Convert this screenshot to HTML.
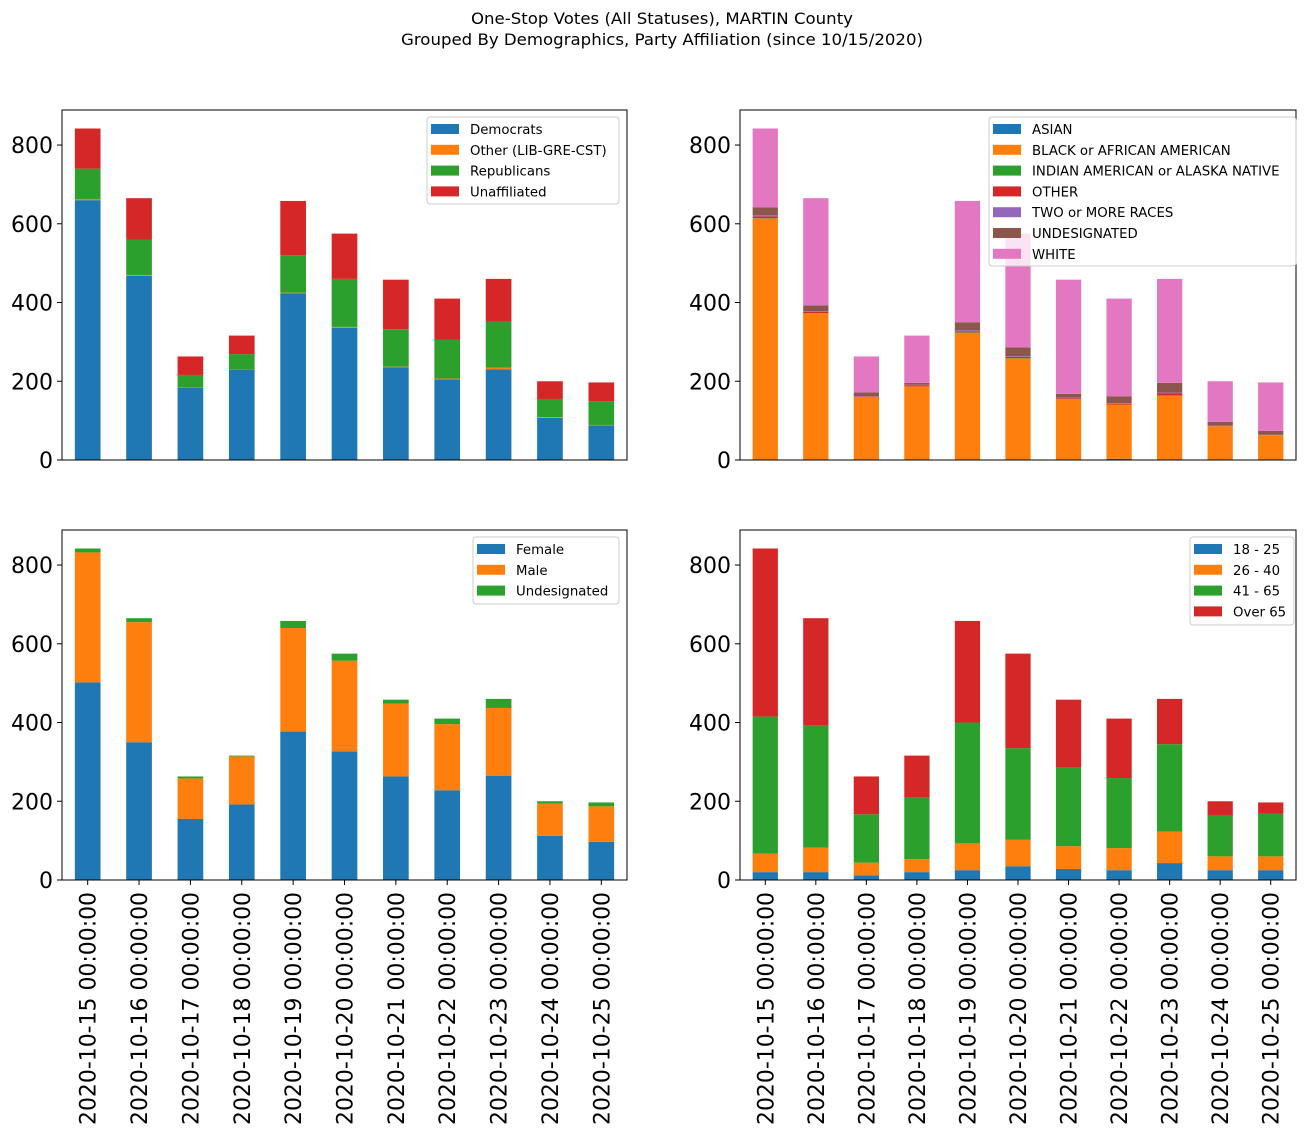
<!DOCTYPE html>
<html><head><meta charset="utf-8"><style>
body{margin:0;background:#fff;}
svg{display:block;font-family:"DejaVu Sans","Liberation Sans",sans-serif;}
</style></head><body>
<svg id="fig" width="1312" height="1137">
<text x="662" y="24" text-anchor="middle" font-size="16" textLength="382" lengthAdjust="spacingAndGlyphs">One-Stop Votes (All Statuses), MARTIN County</text>
<text x="662" y="45" text-anchor="middle" font-size="16" textLength="522" lengthAdjust="spacingAndGlyphs">Grouped By Demographics, Party Affiliation (since 10/15/2020)</text>
</svg>
<script>
const dates=["2020-10-15 00:00:00","2020-10-16 00:00:00","2020-10-17 00:00:00","2020-10-18 00:00:00","2020-10-19 00:00:00","2020-10-20 00:00:00","2020-10-21 00:00:00","2020-10-22 00:00:00","2020-10-23 00:00:00","2020-10-24 00:00:00","2020-10-25 00:00:00"];
const yTicks=[0,200,400,600,800];
const partyNames=["Democrats","Other (LIB-GRE-CST)","Republicans","Unaffiliated"];
const partyDem=[660,468,183,230,423,336,235,205,230,107,88];
const partyOther=[3,2,1,1,2,2,2,2,5,2,1];
const partyRep=[77,90,32,38,95,122,95,98,116,46,60];
const partyUna=[102,105,47,47,138,115,126,105,109,45,48];
const raceNames=["ASIAN","BLACK or AFRICAN AMERICAN","INDIAN AMERICAN or ALASKA NATIVE","OTHER","TWO or MORE RACES","UNDESIGNATED","WHITE"];
const raceAsian=[0,0,0,0,0,0,0,3,0,0,0];
const raceBlack=[613,373,160,187,323,258,155,138,163,86,63];
const raceIndian=[1,0,0,0,1,1,0,0,1,0,0];
const raceOther=[5,3,1,3,3,3,2,2,5,0,0];
const raceTwo=[3,2,1,1,3,2,1,1,2,1,1];
const raceUndes=[20,15,10,5,20,22,10,18,25,10,10];
const raceWhite=[200,272,91,120,308,289,290,248,264,103,123];
const genderNames=["Female","Male","Undesignated"];
const genFemale=[502,350,155,192,377,327,263,228,265,112,97];
const genMale=[330,305,103,122,263,230,185,168,172,82,90];
const genUndes=[10,10,5,2,18,18,10,14,23,6,10];
const ageNames=["18 - 25","26 - 40","41 - 65","Over 65"];
const age1825=[20,20,12,20,25,35,28,25,43,25,25];
const age2640=[47,62,32,33,68,67,58,56,80,35,35];
const age4165=[348,310,123,156,307,233,200,178,222,103,108];
const ageOver65=[427,273,96,107,258,240,172,151,115,37,29];

const colors=["#1f77b4","#ff7f0e","#2ca02c","#d62728","#9467bd","#8c564b","#e377c2"];
const NS="http://www.w3.org/2000/svg";
const svg=document.getElementById('fig');
function mk(tag,attrs,parent){const e=document.createElementNS(NS,tag);for(const k in attrs)e.setAttribute(k,attrs[k]);(parent||svg).appendChild(e);return e;}
const YMAX=889;
function panel(name,L,R,T,B,series,names,legend,showX){
  const g=mk('g',{});
  
  
  const n=dates.length, step=(R-L)/n, bw=step*0.5;
  const xc=i=>L+step*(i+0.5);
  const ys=v=>B-(v/YMAX)*(B-T);
  for(let i=0;i<n;i++){
    let acc=0;
    series.forEach((s,k)=>{
      const v=s[i]; if(v<=0){return;}
      const r=mk('rect',{x:xc(i)-bw/2,y:ys(acc+v),width:bw,height:ys(acc)-ys(acc+v),fill:colors[k]},g);
      
      
      acc+=v;
    });
  }
  const ax=mk('rect',{x:L,y:T,width:R-L,height:B-T,fill:'none',stroke:'#000','stroke-width':1},g);
  
  
  yTicks.forEach(t=>{
    const y=ys(t);
    mk('line',{x1:L-5,x2:L,y1:y,y2:y,stroke:'#000'},g);
    const tx=mk('text',{x:L-9,y:y+8,'text-anchor':'end','font-size':22},g);
    tx.textContent=t;
    
    
  });
  for(let i=0;i<n;i++){
    if(showX){
      mk('line',{x1:xc(i),x2:xc(i),y1:B,y2:B+5,stroke:'#000'},g);
      const tx=mk('text',{x:0,y:0,'text-anchor':'end','font-size':22,textLength:233,lengthAdjust:'spacingAndGlyphs',transform:`translate(${xc(i)+8},${B+12}) rotate(-90)`},g);
      tx.textContent=dates[i];
      
      
    }
  }
  const [lx,ly,lw,lh]=legend;
  const lg=mk('g',{},g);
  
  
  mk('rect',{x:lx,y:ly,width:lw,height:lh,rx:3,fill:'rgba(255,255,255,0.8)',stroke:'#ccc'},lg);
  names.forEach((nm,k)=>{
    const yy=ly+12+k*20.8;
    mk('rect',{x:lx+4,y:yy-5,width:28,height:10,fill:colors[k]},lg);
    const t=mk('text',{x:lx+43,y:yy+5,'font-size':13.3},lg);
    t.textContent=nm;
    
    
  });
}
panel('party-chart',62,627,110,460,[partyDem,partyOther,partyRep,partyUna],partyNames,[427,117,192,87],false);
panel('race-chart',740,1296,110,460,[raceAsian,raceBlack,raceIndian,raceOther,raceTwo,raceUndes,raceWhite],raceNames,[989,117,307,149],false);
panel('gender-chart',62,627,530,880,[genFemale,genMale,genUndes],genderNames,[473,537,146,67],true);
panel('age-chart',740,1296,530,880,[age1825,age2640,age4165,ageOver65],ageNames,[1190,537,104,88],true);
</script>
</body></html>
